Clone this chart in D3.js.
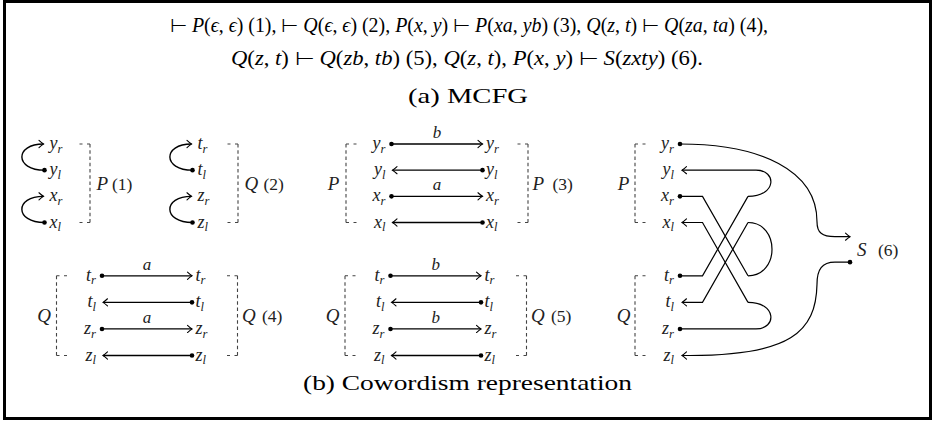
<!DOCTYPE html>
<html><head><meta charset="utf-8">
<script src="https://cdn.jsdelivr.net/npm/d3@7"></script>
<style>
body{margin:0;background:#fff} svg{display:block}
text{font-family:"Liberation Serif","Times New Roman",Times,serif;}
</style>
</head><body>
<svg id="c" width="933" height="422"></svg>
<script>
// ---------------- data ----------------
const ruleLine1 = ["⊢ P(ϵ, ϵ) (1)", "⊢ Q(ϵ, ϵ) (2)", "P(x, y) ⊢ P(xa, yb) (3)", "Q(z, t) ⊢ Q(za, ta) (4)"];
const ruleLine2 = ["Q(z, t) ⊢ Q(zb, tb) (5)", "Q(z, t), P(x, y) ⊢ S(zxty) (6)"];
const captionA = "(a) MCFG";
const captionB = "(b) Cowordism representation";
const varsP = ["y_r", "y_l", "x_r", "x_l"];
const varsQ = ["t_r", "t_l", "z_r", "z_l"];
const ruleIds = ["(1)", "(2)", "(3)", "(4)", "(5)", "(6)"];
const edgeLabels3 = ["b", "", "a", ""];
const edgeLabels4 = ["a", "", "a", ""];
const edgeLabels5 = ["b", "", "b", ""];
// rule (6): diagonal wires (left row -> right row) and right-side loops
const crossing6 = [["x_r", "t_r"], ["x_l", "t_l"], ["t_r", "x_r"], ["t_l", "x_l"]];
const loops6 = [["y_l", "x_r"], ["x_l", "t_r"], ["t_l", "z_r"]];
const sInput = "y_r", sOutput = "z_l";

// ---------------- setup ----------------
const svg = d3.select("#c");
const INK = "#000", LABEL = "#222", DASH = "#444";
const LS = 18, NS = 19, IS = 17.5;   // label, name, id font sizes

const rowTop = d3.scaleLinear().domain([0, 3]).range([144, 222.5]);
const rowBot = d3.scaleLinear().domain([0, 3]).range([275.8, 355.5]);

svg.append("rect").attr("x", 4.5).attr("y", 1.5).attr("width", 926).attr("height", 417)
  .attr("fill", "none").attr("stroke", "#000").attr("stroke-width", 3);

function math(parent, str, x, y, size, anchor, fill) {
  const t = parent.append("text").attr("x", x).attr("y", y).attr("font-size", size)
    .attr("text-anchor", anchor || "start").attr("fill", fill || INK);
  const re = /_(.)|([A-Za-zϵ])|([^A-Za-zϵ_]+)/g;
  let m;
  while ((m = re.exec(str))) {
    if (m[1]) t.append("tspan").attr("font-style", "italic").attr("font-size", size * 0.7).attr("dy", size * 0.2).text(m[1]);
    else if (m[2]) t.append("tspan").attr("font-style", "italic").text(m[2]);
    else t.append("tspan").text(m[3]);
  }
  return t;
}
function head(g, x, y, ang) {
  g.append("path").attr("d", "M-4.5,-3.6 Q-1.6,-0.9 0,0 Q-1.6,0.9 -4.5,3.6")
    .attr("transform", `translate(${x},${y}) rotate(${ang})`)
    .attr("fill", "none").attr("stroke", INK).attr("stroke-width", 1.1).attr("stroke-linecap", "round");
}
function dot(g, x, y) { g.append("circle").attr("cx", x).attr("cy", y).attr("r", 2.3).attr("fill", INK); }
function wire(g, d, w) {
  g.append("path").attr("d", d).attr("fill", "none").attr("stroke", INK).attr("stroke-width", w || 1.3);
}
function bracket(g, xo, xi, y0, y1) {
  const s = g.append("g").attr("fill", "none").attr("stroke", DASH).attr("stroke-width", 1.1);
  const L = y1 - y0, n = Math.round((L - 3.5) / 6.5), gap = (L - 3.5 * (n + 1)) / n;
  s.append("path").attr("d", `M${xo},${y0}V${y1}`).attr("stroke-dasharray", `3.5,${gap}`);
  s.append("path").attr("d", `M${xo},${y0}H${xi}`).attr("stroke-dasharray", "3,4.5");
  s.append("path").attr("d", `M${xo},${y1}H${xi}`).attr("stroke-dasharray", "3,4.5");
}

// ---------------- (a) MCFG ----------------
math(svg, ruleLine1.join(", ") + ",", 469, 32, 20, "middle").attr("textLength", 598).attr("lengthAdjust", "spacingAndGlyphs");
math(svg, ruleLine2.join(", ") + ".", 467, 65, 20, "middle").attr("textLength", 472).attr("lengthAdjust", "spacingAndGlyphs");
svg.append("text").attr("x", 468).attr("y", 103).attr("font-size", 21)
  .attr("text-anchor", "middle").attr("textLength", 120).attr("lengthAdjust", "spacingAndGlyphs").text(captionA);
svg.append("text").attr("x", 467.5).attr("y", 390).attr("font-size", 21)
  .attr("text-anchor", "middle").attr("textLength", 329).attr("lengthAdjust", "spacingAndGlyphs").text(captionB);

// ---------------- rules (1),(2): loops ----------------
function loopPanel(xDot, vars, name, id, row, idGap) {
  const g = svg.append("g");
  [[0, 1], [2, 3]].forEach(([a, b]) => {
    const y0 = row(a), y1 = row(b);
    wire(g, `M${xDot},${y1}C${xDot - 30},${y1} ${xDot - 30},${y0} ${xDot - 1},${y0}`, 1.4);
    head(g, xDot - 1, y0, 0);
    dot(g, xDot, y1);
  });
  vars.forEach((v, i) => math(g, v, xDot + 5, row(i) + 5, LS, "start", LABEL));
  bracket(g, xDot + 45.5, xDot + 34.5, row(0), row(3));
  const mid = (row(0) + row(3)) / 2;
  math(g, name, xDot + 52, mid + 6.5, NS, "start", LABEL);
  math(g, id, xDot + idGap, mid + 6.5, IS, "start", LABEL);
}
loopPanel(44.5, varsP, "P", ruleIds[0], rowTop, 67.5);
loopPanel(192.5, varsQ, "Q", ruleIds[1], rowTop, 71);

// ---------------- rules (3),(4),(5): parallel wires ----------------
function wirePanel(xL, xR, vars, name, id, labels, row) {
  const g = svg.append("g");
  vars.forEach((v, i) => {
    const y = row(i);
    if (i % 2 === 0) { wire(g, `M${xL},${y}H${xR}`); dot(g, xL, y); head(g, xR, y, 0); }
    else { wire(g, `M${xL + 1},${y}H${xR}`); dot(g, xR, y); head(g, xL + 1, y, 180); }
    if (labels[i]) math(g, labels[i], (xL + xR) / 2, y - 6, LS - 1, "middle", LABEL);
    math(g, v, xL - 6, y + 5, LS, "end", LABEL);
    math(g, v, xR + 3.5, y + 5, LS, "start", LABEL);
  });
  bracket(g, xL - 45.5, xL - 34.5, row(0), row(3));
  bracket(g, xR + 45.5, xR + 34.5, row(0), row(3));
  const mid = (row(0) + row(3)) / 2;
  math(g, name, xL - 58, mid + 6.5, NS, "middle", LABEL);
  math(g, name, xR + 50, mid + 6.5, NS, "start", LABEL);
  math(g, id, xR + 70, mid + 6.5, IS, "start", LABEL);
}
wirePanel(391.5, 482.5, varsP, "P", ruleIds[2], edgeLabels3, rowTop);
wirePanel(102, 192, varsQ, "Q", ruleIds[3], edgeLabels4, rowBot);
wirePanel(390.5, 481, varsQ, "Q", ruleIds[4], edgeLabels5, rowBot);

// ---------------- rule (6) ----------------
(function () {
  const g = svg.append("g");
  const xL = 680, xA = 702.5, xB = 748, xC = 777;
  const Y = {};
  varsP.forEach((v, i) => Y[v] = rowTop(i));
  varsQ.forEach((v, i) => Y[v] = rowBot(i));
  const isR = v => v.endsWith("_r");
  const leftEnd = v => isR(v) ? xL : xL + 2;
  const marker = (v) => isR(v) ? dot(g, xL, Y[v]) : head(g, xL + 2, Y[v], 180);
  const inCross = new Set(crossing6.map(c => c[0]));

  crossing6.forEach(([a, b]) => {
    wire(g, `M${leftEnd(a)},${Y[a]}H${xA}L${xB},${Y[b]}`, 1.2);
  });
  loops6.forEach(([a, b]) => {
    const ya = Y[a], yb = Y[b];
    const ea = inCross.has(a) ? xB : xB + 8, eb = inCross.has(b) ? xB : xB + 8;
    let d = inCross.has(a) ? `M${xB},${ya}` : `M${leftEnd(a)},${ya}H${ea}`;
    const c = inCross.has(a) && inCross.has(b) ? xC + 3 : xC;
    d += `C${c},${ya} ${c},${yb} ${eb},${yb}`;
    if (!inCross.has(b)) d += `H${leftEnd(b)}`;
    wire(g, d, 1.2);
  });
  // S connections
  const sMid = (rowTop(3) + rowBot(0)) / 2, xS = 850, xV = 817;
  const yIn = sMid - 12.5, yOut = sMid + 13;
  wire(g, `M${xL},${Y[sInput]}C${xL + 80},${Y[sInput]} ${xV},${Y[sInput] + 26} ${xV},${yIn - 15}C${xV},${yIn - 4} ${xV + 5},${yIn} ${xV + 18},${yIn}H${xS}`, 1.2);
  head(g, xS, yIn, 0);
  wire(g, `M${xS},${yOut}H${xV + 18}C${xV + 5},${yOut} ${xV},${yOut + 7} ${xV},${yOut + 22}C${xV - 1},${yOut + 70} ${xV - 27},${Y[sOutput]} ${xL + 10},${Y[sOutput]}H${leftEnd(sOutput)}`, 1.2);
  dot(g, xS, yOut);
  [...varsP, ...varsQ].forEach(v => { marker(v); math(g, v, xL - 6, Y[v] + 5, LS, "end", LABEL); });
  bracket(g, xL - 45, xL - 33, rowTop(0), rowTop(3));
  bracket(g, xL - 45, xL - 33, rowBot(0), rowBot(3));
  math(g, "P", xL - 56.5, (rowTop(0) + rowTop(3)) / 2 + 6.5, NS, "middle", LABEL);
  math(g, "Q", xL - 56.5, (rowBot(0) + rowBot(3)) / 2 + 6.5, NS, "middle", LABEL);
  math(g, "S", 857, sMid + 6.5, NS, "start", LABEL);
  math(g, ruleIds[5], 878, sMid + 6.5, IS, "start", LABEL);
})();
</script>
</body></html>
